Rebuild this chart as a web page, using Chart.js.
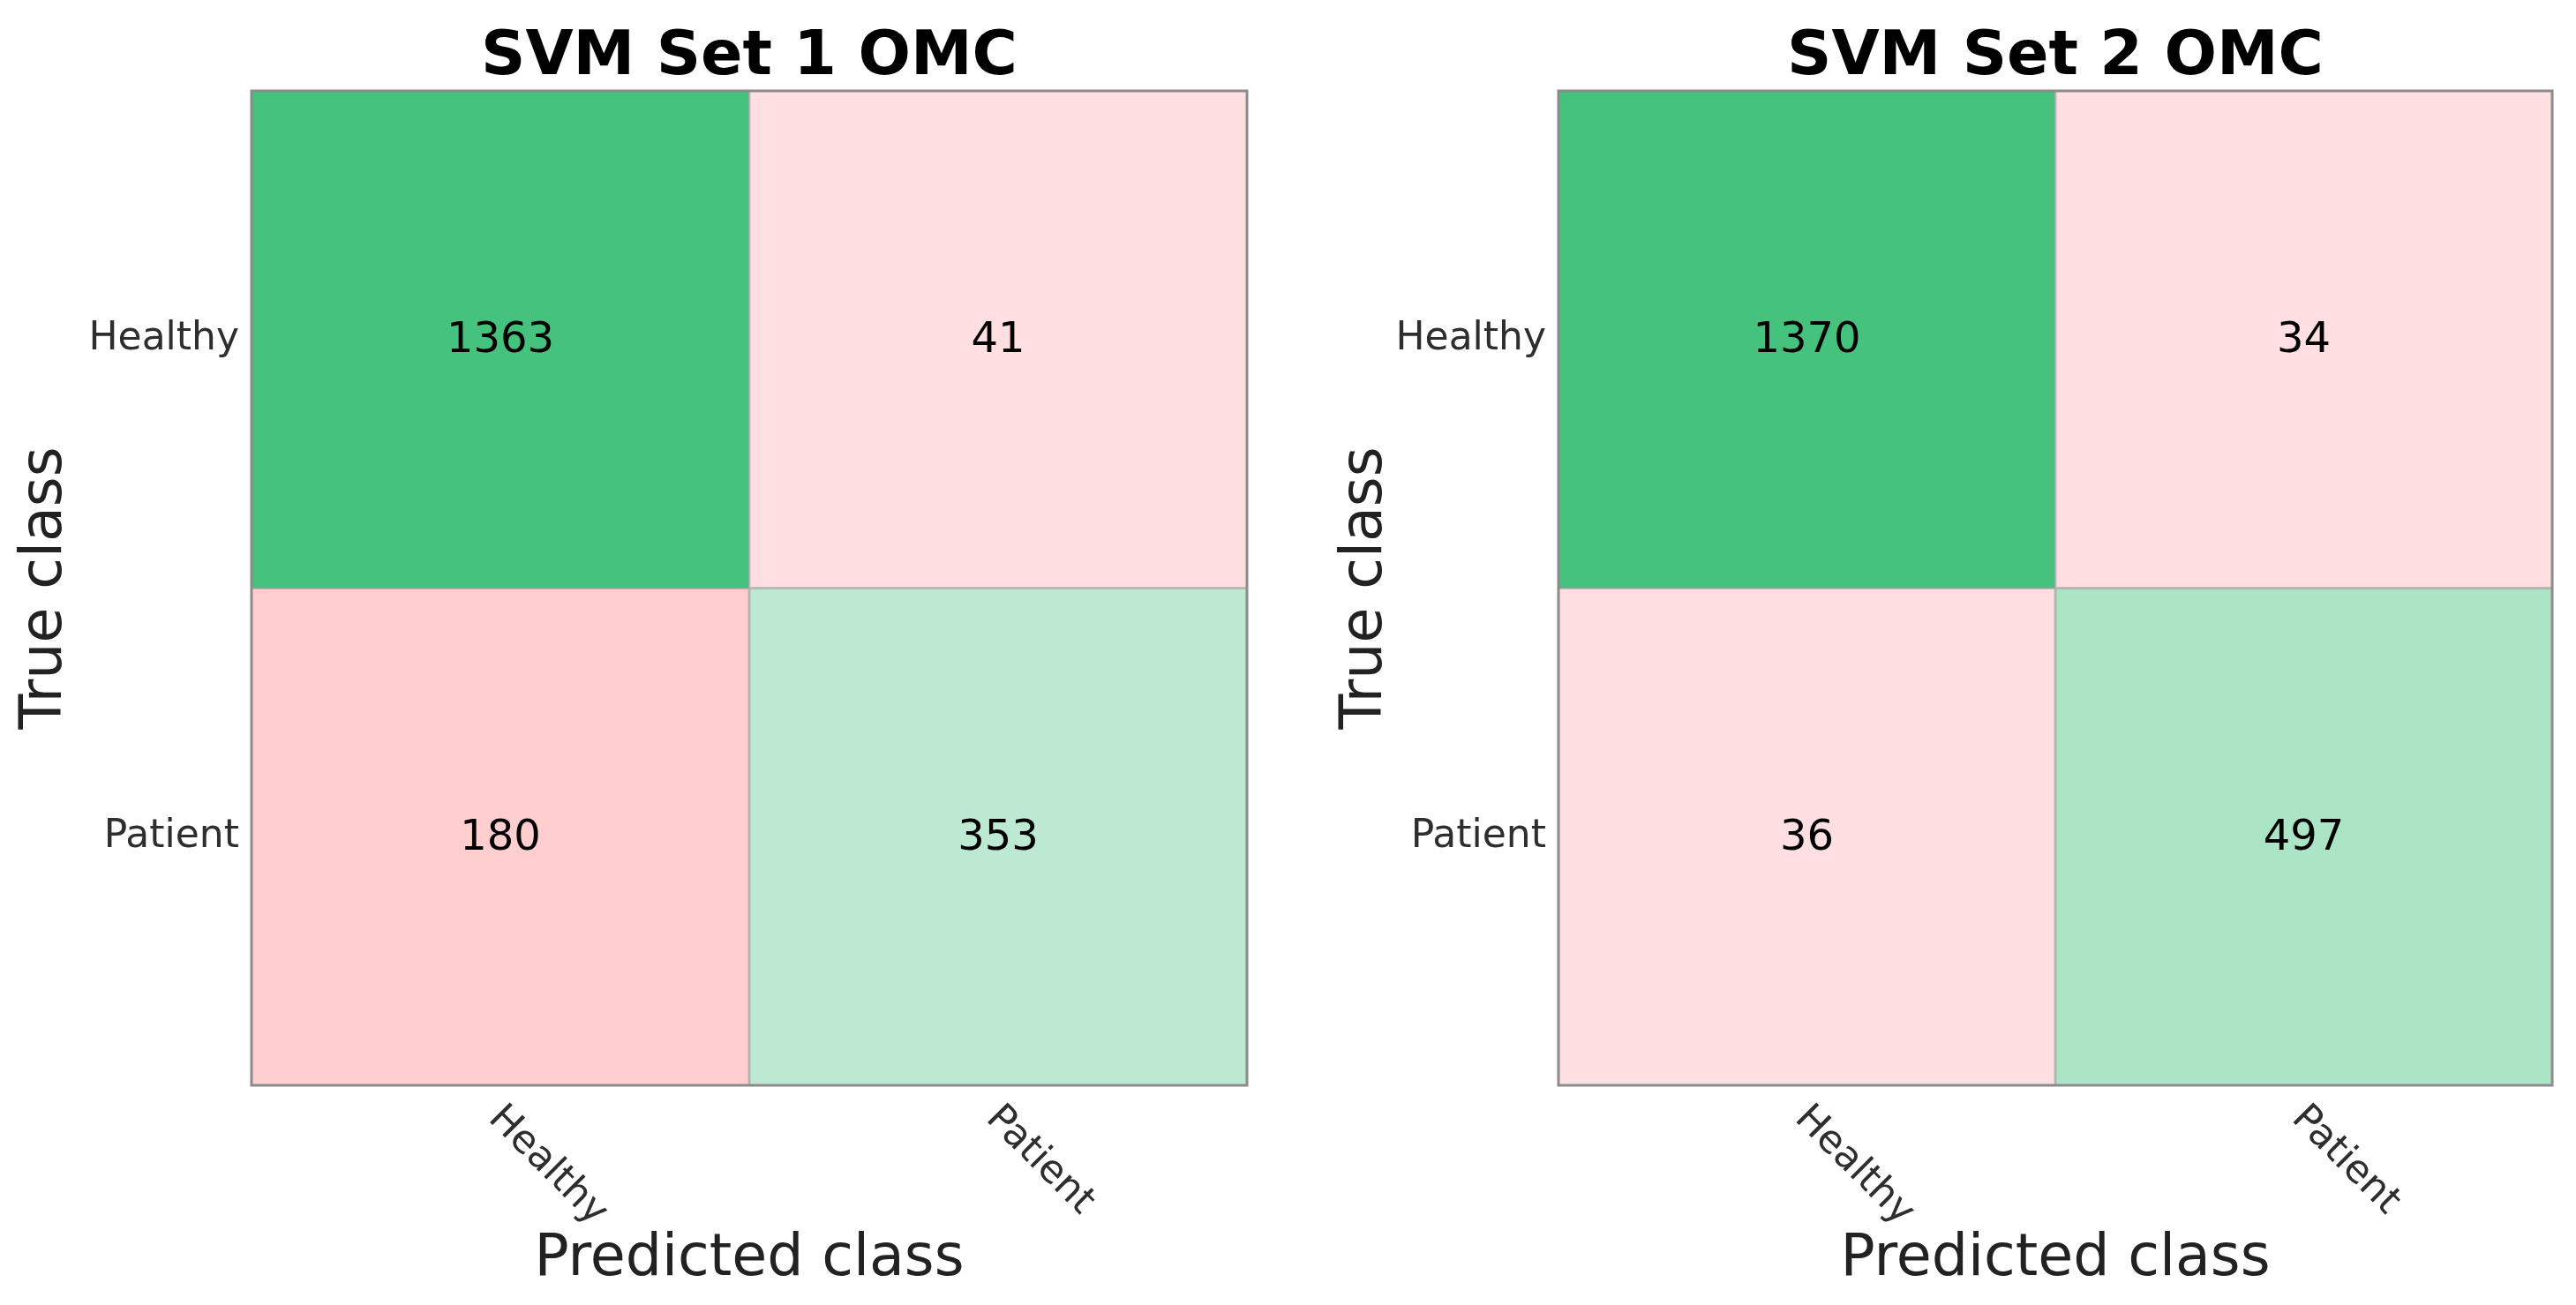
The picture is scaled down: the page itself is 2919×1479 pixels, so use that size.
<!DOCTYPE html>
<html>
<head>
<meta charset="utf-8">
<title>SVM confusion matrices</title>
<script src="https://cdn.jsdelivr.net/npm/chart.js@4.4.1/dist/chart.umd.min.js"></script>
<style>
  html, body { margin: 0; padding: 0; background: #fff; }
  canvas { position: absolute; top: 0; }
  #set1 { left: 0; }
  #set2 { left: 1460px; }
</style>
</head>
<body>
<canvas id="set1" width="1460" height="1479"></canvas>
<canvas id="set2" width="1459" height="1479"></canvas>
<script>
// Data
const predictedLabels = ['Healthy', 'Patient'];
const trueLabels = ['Healthy', 'Patient'];
const chartTitles = ['SVM Set 1 OMC', 'SVM Set 2 OMC'];
const xAxisTitle = 'Predicted class';
const yAxisTitle = 'True class';

// rows = true class, columns = predicted class
const set1Healthy = [1363, 41];
const set1Patient = [180, 353];
const set2Healthy = [1370, 34];
const set2Patient = [36, 497];

// Cell fills
const set1Colors = [['#45c37e', '#ffdfe1'], ['#ffcecf', '#bde9d3']];
const set2Colors = [['#45c37e', '#ffdfe1'], ['#ffdfe1', '#ace5c6']];

const FONT = "'DejaVu Sans', 'Liberation Sans', sans-serif";

const matrixText = {
  id: 'matrixText',
  afterDatasetsDraw(chart, args, opts) {
    const { ctx, chartArea: area, scales } = chart;
    const x = scales.x, y = scales.y;

    // cell values
    ctx.save();
    ctx.fillStyle = '#000';
    ctx.font = `48px ${FONT}`;
    ctx.textAlign = 'center';
    ctx.textBaseline = 'middle';
    chart.data.datasets.forEach((ds, r) => {
      chart.getDatasetMeta(r).data.forEach((bar, c) => {
        const p = bar.getCenterPoint();
        ctx.fillText(String(ds.counts[c]), p.x, p.y + 2);
      });
    });
    ctx.restore();

    // cell dividers
    ctx.save();
    ctx.strokeStyle = 'rgba(150, 150, 150, 0.55)';
    ctx.lineWidth = 3;
    const midX = (x.getPixelForValue(0) + x.getPixelForValue(1)) / 2;
    const midY = y.getPixelForValue(1);
    ctx.beginPath();
    ctx.moveTo(midX, area.top);
    ctx.lineTo(midX, area.bottom);
    ctx.moveTo(area.left, midY);
    ctx.lineTo(area.right, midY);
    ctx.stroke();

    // panel border
    ctx.strokeStyle = '#8c8c8c';
    ctx.lineWidth = 3;
    ctx.strokeRect(area.left, area.top, area.right - area.left, area.bottom - area.top);
    ctx.restore();
  },
  afterDraw(chart, args, opts) {
    const { ctx, chartArea: area, scales } = chart;
    const x = scales.x;
    const cx = (area.left + area.right) / 2;
    const cy = (area.top + area.bottom) / 2;

    ctx.save();
    // title
    ctx.fillStyle = '#000';
    ctx.font = `bold 70px ${FONT}`;
    ctx.textAlign = 'center';
    ctx.textBaseline = 'alphabetic';
    ctx.fillText(opts.title, cx, area.top - 19);

    // y tick labels
    ctx.fillStyle = '#2e2e2e';
    ctx.font = `44px ${FONT}`;
    ctx.textAlign = 'right';
    ctx.textBaseline = 'middle';
    const n = trueLabels.length;
    trueLabels.forEach((lab, r) => {
      const yc = scales.y.getPixelForValue(n - r - 0.5);
      ctx.fillText(lab, area.left - 14, yc);
    });

    // x tick labels, turned 45 degrees clockwise
    ctx.textAlign = 'left';
    predictedLabels.forEach((lab, c) => {
      ctx.save();
      ctx.translate(x.getPixelForValue(c) - 7, area.bottom + 31);
      ctx.rotate(Math.PI / 4);
      ctx.fillText(lab, 0, 0);
      ctx.restore();
    });

    // axis titles
    ctx.fillStyle = '#222';
    ctx.font = `65px ${FONT}`;
    ctx.textAlign = 'center';
    ctx.textBaseline = 'alphabetic';
    ctx.fillText(xAxisTitle, cx, area.bottom + 215);

    ctx.save();
    ctx.translate(area.left - opts.yTitleGap, cy);
    ctx.rotate(-Math.PI / 2);
    ctx.textBaseline = 'middle';
    ctx.fillText(yAxisTitle, 0, 0);
    ctx.restore();
    ctx.restore();
  }
};

function makeMatrix(canvasId, title, rows, colors, padding, yTitleGap) {
  const n = trueLabels.length;
  const datasets = trueLabels.map((lab, r) => ({
    label: lab,
    counts: rows[r],
    // each row spans one unit on the y scale, top row first
    data: rows[r].map(() => [n - r - 1, n - r]),
    backgroundColor: colors[r],
    borderWidth: 0,
    barPercentage: 1,
    categoryPercentage: 1,
    grouped: false
  }));

  return new Chart(document.getElementById(canvasId), {
    type: 'bar',
    data: { labels: predictedLabels, datasets: datasets },
    options: {
      responsive: false,
      animation: false,
      devicePixelRatio: 1,
      layout: { padding: padding },
      scales: {
        x: { type: 'category', display: false, offset: true },
        y: { type: 'linear', display: false, min: 0, max: n }
      },
      plugins: {
        legend: { display: false },
        tooltip: { enabled: false },
        matrixText: { title: title, yTitleGap: yTitleGap }
      }
    },
    plugins: [matrixText]
  });
}

makeMatrix('set1', chartTitles[0], [set1Healthy, set1Patient], set1Colors,
  { left: 285, right: 47, top: 103, bottom: 249 }, 233);
makeMatrix('set2', chartTitles[1], [set2Healthy, set2Patient], set2Colors,
  { left: 306, right: 27, top: 103, bottom: 249 }, 218);
</script>
</body>
</html>
